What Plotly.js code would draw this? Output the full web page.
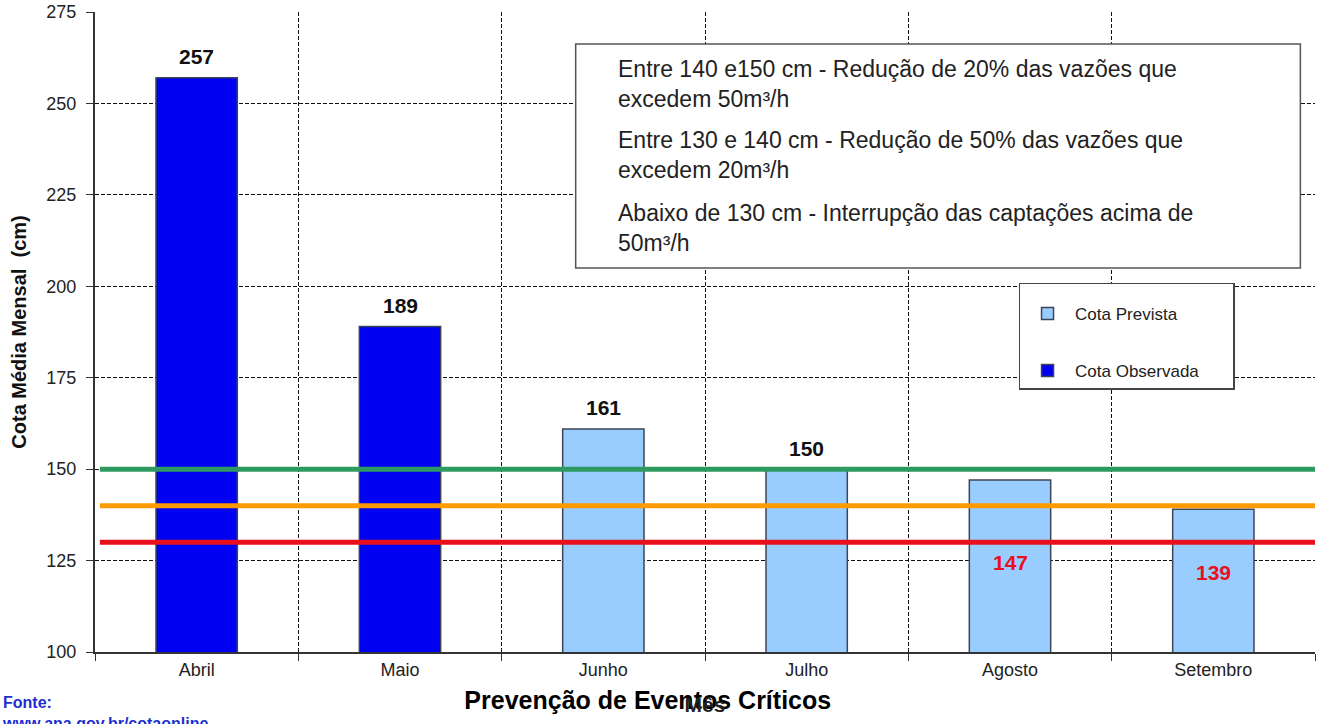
<!DOCTYPE html>
<html>
<head>
<meta charset="utf-8">
<script src="https://cdn.plot.ly/plotly-3.0.1.min.js"></script>
<style>html,body{margin:0;padding:0;background:#fff;}#chart{width:1322px;height:724px;}</style>
</head>
<body>
<div id="chart"></div>
<script>
const months = ["Abril", "Maio", "Junho", "Julho", "Agosto", "Setembro"];
const observedMonths = ["Abril", "Maio"];
const observedValues = [257, 189];
const forecastMonths = ["Junho", "Julho", "Agosto", "Setembro"];
const forecastValues = [161, 150, 147, 139];
const thresholds = [150, 140, 130];
const thresholdColors = ["#2e9a62", "#ff9a00", "#e8101c"];
const yTicks = [100, 125, 150, 175, 200, 225, 250, 275];
const noteLines = [
  "Entre 140 e150 cm - Redução de 20% das vazões que<br>excedem 50m³/h",
  "Entre 130 e 140 cm - Redução de 50% das vazões que<br>excedem 20m³/h",
  "Abaixo de 130 cm - Interrupção das captações acima de<br>50m³/h"
];

const FONT = "Arial, 'Liberation Sans', sans-serif";
const barLine = {color: "#3a4656", width: 1.5};
const PAD = "\u00a0\u00a0\u00a0\u00a0\u00a0\u00a0";

const traces = [
  {
    type: "bar", name: "Cota Prevista" + PAD, x: forecastMonths, y: forecastValues,
    marker: {color: "#99ccff", line: barLine}, width: 0.4, legendgroup: "a"
  },
  {
    type: "bar", name: "Cota Observada" + PAD, x: observedMonths, y: observedValues,
    marker: {color: "#0000f2", line: barLine}, width: 0.4, legendgroup: "b"
  }
];

const annotations = [];
const allMonths = observedMonths.concat(forecastMonths);
const allValues = observedValues.concat(forecastValues);
allValues.forEach((v, i) => {
  const below = v < thresholds[0];
  annotations.push({
    x: allMonths[i], y: v, xref: "x", yref: "y",
    text: String(v), showarrow: false,
    font: {family: FONT, size: 21, color: below ? "#e8101c" : "#111", weight: "bold"},
    yanchor: "middle",
    yshift: below ? (v > 145 ? -82 : -63) : 21
  });
});
const noteY = [0.888, 0.777, 0.663];
noteLines.forEach((t, i) => {
  annotations.push({
    xref: "paper", yref: "paper", x: 0.427, y: noteY[i], xanchor: "left", yanchor: "middle",
    align: "left", text: t, showarrow: false,
    font: {family: FONT, size: 23, color: "#222"}
  });
});
annotations.push({
  xref: "paper", yref: "paper", x: -0.078, y: -0.062, xanchor: "left", yanchor: "top",
  align: "left", text: "Fonte:<br>www.ana.gov.br/cotaonline", showarrow: false,
  font: {family: FONT, size: 16, color: "#1c2fd0", weight: "bold"}
});

const shapes = thresholds.map((t, i) => ({
  type: "line", xref: "paper", yref: "y", x0: 0.004, x1: 1, y0: t, y1: t,
  line: {color: thresholdColors[i], width: 5}
}));
shapes.push({
  type: "rect", xref: "paper", yref: "paper", x0: 0.394, x1: 0.988, y0: 0.6, y1: 0.95,
  fillcolor: "#fff", line: {color: "#555", width: 1.5}, layer: "above"
});

const layout = {
  width: 1322, height: 724,
  margin: {l: 95, r: 7, t: 12, b: 72},
  paper_bgcolor: "#fff", plot_bgcolor: "#fff",
  barmode: "overlay",
  showlegend: true,
  legend: {
    x: 0.757, y: 0.577, xanchor: "left", yanchor: "top",
    bgcolor: "#fff", bordercolor: "#444", borderwidth: 1.5,
    font: {family: FONT, size: 17, color: "#222"},
    title: {text: "\u00a0", font: {family: FONT, size: 9}},
    traceorder: "grouped", tracegroupgap: 32,
    itemwidth: 45
  },
  title: {
    text: "Prevenção de Eventos Críticos",
    font: {family: FONT, size: 25, color: "#000", weight: "bold"},
    xref: "container", yref: "container", x: 0.49, y: 0.033, xanchor: "center", yanchor: "middle"
  },
  xaxis: {
    type: "category", categoryorder: "array", categoryarray: months,
    tickson: "boundaries", ticks: "outside", ticklen: 7, tickcolor: "#333",
    showgrid: true, gridcolor: "#111", griddash: "4px,2px", gridwidth: 1,
    showline: true, linecolor: "#333", linewidth: 2,
    tickfont: {family: FONT, size: 18, color: "#222"},
    title: {text: "Mês", font: {family: FONT, size: 21, color: "#222", weight: "bold"}, standoff: 19}
  },
  yaxis: {
    range: [100, 275], tickvals: yTicks, ticks: "outside", ticklen: 7, tickcolor: "#333",
    ticklabelstandoff: 6,
    showgrid: true, gridcolor: "#111", griddash: "4px,2px", gridwidth: 1, zeroline: false,
    showline: true, linecolor: "#333", linewidth: 2,
    tickfont: {family: FONT, size: 18, color: "#222"},
    title: {text: "Cota Média Mensal  (cm)", font: {family: FONT, size: 20, color: "#111", weight: "bold"}, standoff: 14}
  },
  annotations: annotations,
  shapes: shapes
};

Plotly.newPlot("chart", traces, layout, {displayModeBar: false, staticPlot: true});
</script>
</body>
</html>
